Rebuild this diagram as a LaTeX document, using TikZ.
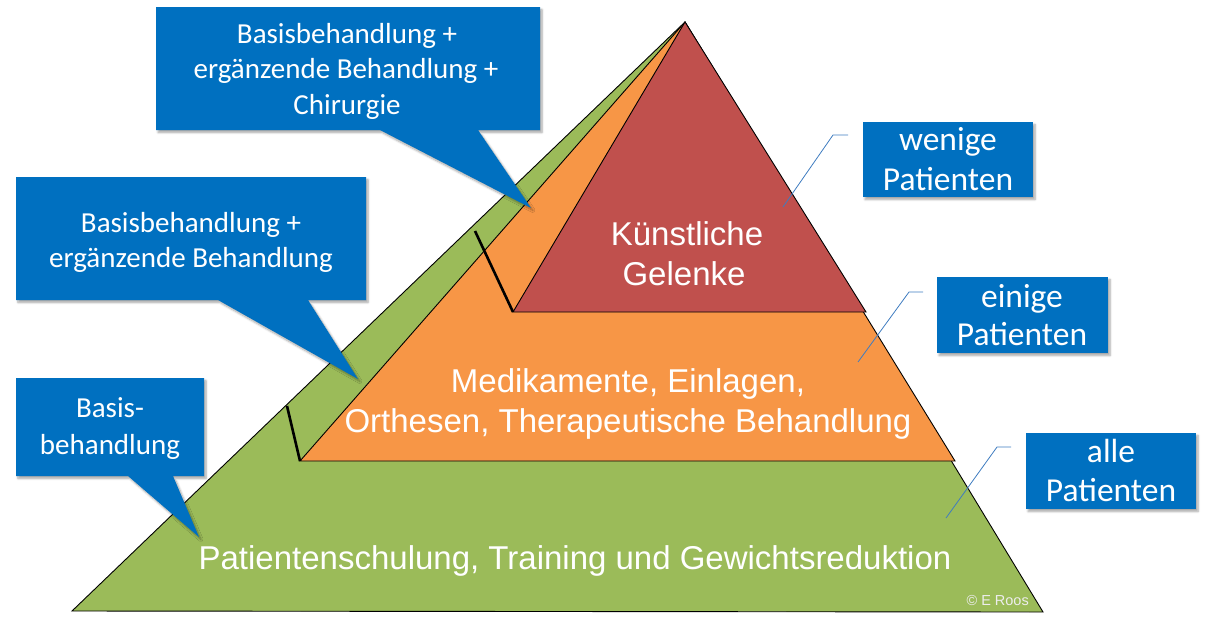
\documentclass[tikz,border=0pt]{standalone}
\usepackage{fontspec}
\setmainfont{Liberation Sans}
\newfontfamily\calfont{Carlito}
\usetikzlibrary{shadows.blur}
\definecolor{boxblue}{HTML}{0070C0}
\definecolor{pgreen}{HTML}{9BBB59}
\definecolor{porange}{HTML}{F79646}
\definecolor{pred}{HTML}{C0504D}
\definecolor{leader}{HTML}{3F7CC0}
\definecolor{copyc}{HTML}{EDEDED}
\tikzset{
  layer/.style={draw=black, line width=0.9pt, line join=miter},
  callout/.style={fill=boxblue, draw=none, blur shadow={shadow xshift=2pt, shadow yshift=-2.5pt, shadow blur steps=6, shadow opacity=35}},
  boxtxt/.style={anchor=base, text=white, inner sep=0pt, font=\calfont\fontsize{29}{35}\selectfont},
  bigtxt/.style={anchor=base, text=white, inner sep=0pt, font=\calfont\fontsize{33.5}{40}\selectfont},
  maintxt/.style={anchor=base, text=white, inner sep=0pt, font=\fontsize{33}{38}\selectfont},
  leaderline/.style={draw=leader, line width=0.8pt},
  tick/.style={draw=black, line width=2.6pt},
}
\begin{document}
\begin{tikzpicture}[x=1pt, y=-1pt]
\useasboundingbox (0,0) rectangle (1214,630);
% pyramid layers
\coordinate (apex) at (685,22);
\coordinate (gL) at (72,611);
\coordinate (gR) at (1043,612);
\coordinate (oL) at (300,461);
\coordinate (oR) at (955,461);
\coordinate (rL) at (513,312);
\coordinate (rR) at (866,312);
\path[layer, fill=pgreen] (apex) -- (gR) -- (gL) -- cycle;
\path[layer, fill=porange] (apex) -- (oR) -- (oL) -- cycle;
\path[layer, fill=pred] (apex) -- (rR) -- (rL) -- cycle;
% black ticks
\coordinate (t1) at (475,231);
\coordinate (t2) at (287,406);
\draw[tick] (t1) -- (rL);
\draw[tick] (t2) -- (oL);
% texts inside
\node[maintxt] (k1) at (687,245) {Künstliche};
\node[maintxt] (k2) at (684,285) {Gelenke};
\node[maintxt] (m1) at (628,392) {Medikamente, Einlagen,};
\node[maintxt] (m2) at (628,432) {Orthesen, Therapeutische Behandlung};
\node[maintxt] (p1) at (575,569) {Patientenschulung, Training und Gewichtsreduktion};
\node[anchor=base east, text=copyc, inner sep=0pt, font=\fontsize{14.5}{16}\selectfont] (copy) at (1029,605) {© E Roos};
% callouts
\path[callout] (156,7) -- (540,7) -- (540,130) -- (478,130) -- (531,208) -- (380,130) -- (156,130) -- cycle;
\path[callout] (16,177) -- (366,177) -- (366,300) -- (308,300) -- (358,379) -- (218,300) -- (16,300) -- cycle;
\path[callout] (16,378) -- (204,378) -- (204,476) -- (173,476) -- (199,537) -- (128,476) -- (16,476) -- cycle;
\node[boxtxt] (c1a) at (347,43) {Basisbehandlung +};
\node[boxtxt] (c1b) at (346,78) {ergänzende Behandlung +};
\node[boxtxt] (c1c) at (347,114) {Chirurgie};
\node[boxtxt] (c2a) at (191,232) {Basisbehandlung +};
\node[boxtxt] (c2b) at (191,267) {ergänzende Behandlung};
\node[boxtxt] (c3a) at (110,417) {Basis-};
\node[boxtxt] (c3b) at (110,454) {behandlung};
% right labels
\path[callout] (863,122) rectangle (1033,197);
\path[callout] (937,277) rectangle (1108,353);
\path[callout] (1026,433) rectangle (1196,509);
\node[bigtxt] (w1) at (948,150) {wenige};
\node[bigtxt] (w2) at (948,190) {Patienten};
\node[bigtxt] (e1) at (1022,307) {einige};
\node[bigtxt] (e2) at (1022,345) {Patienten};
\node[bigtxt] (a1) at (1111,462) {alle};
\node[bigtxt] (a2) at (1111,501) {Patienten};
% leader lines
\coordinate (l1s) at (848,135); \coordinate (l1k) at (833,135); \coordinate (l1e) at (783,207);
\coordinate (l2s) at (923,292); \coordinate (l2k) at (909,292); \coordinate (l2e) at (858,362);
\coordinate (l3s) at (1011,447); \coordinate (l3k) at (997,447); \coordinate (l3e) at (946,518);
\draw[leaderline] (l1s) -- (l1k) -- (l1e);
\draw[leaderline] (l2s) -- (l2k) -- (l2e);
\draw[leaderline] (l3s) -- (l3k) -- (l3e);
\end{tikzpicture}
\end{document}
